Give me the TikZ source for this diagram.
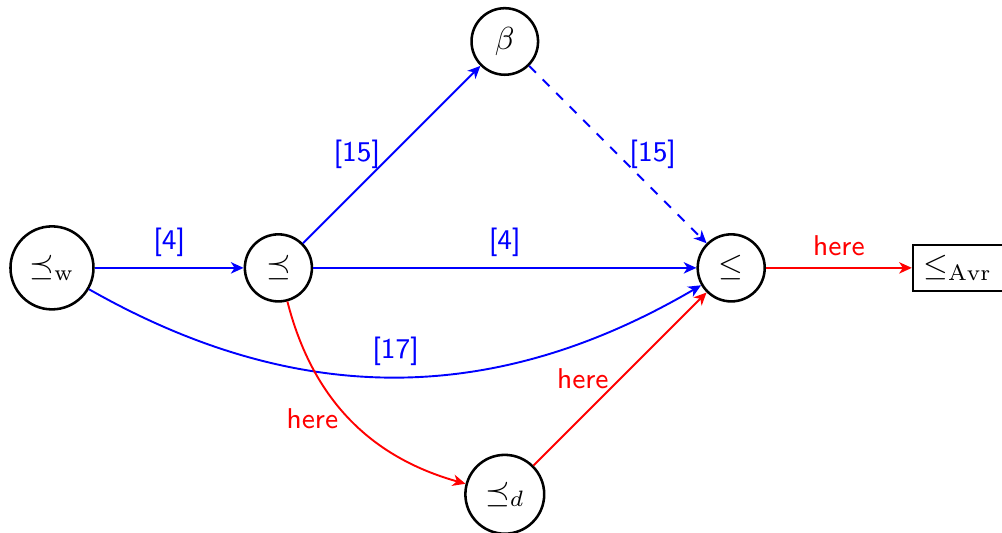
\documentclass[tikz,border=0pt]{standalone}
\usepackage{amsmath,amssymb}
\usepackage{tikz}
\usetikzlibrary{arrows.meta,positioning}
\tikzset{
  st/.style={circle,draw,thick,inner sep=3.6pt},
  res/.style={rectangle,draw,semithick},
  ed/.style={semithick,-{Stealth[length=4pt,width=3.6pt,inset=1.2pt]}},
  lb/.style={font=\sffamily\small}
}
\begin{document}
\begin{tikzpicture}
  \useasboundingbox (-0.574,-2.925) rectangle (10.49,2.958);
  % states
  \node[st] (w) at (0,0) {$\preceq_{\mathrm{w}}$};
  \node[st] (p) at (2.5,0) {$\preceq$};
  \node[st] (b) at (5,2.5) {$\beta$};
  \node[st] (l) at (7.5,0) {$\leq$};
  \node[st] (d) at (5,-2.5) {$\preceq_d$};
  \node[res] (a) at (10,0) {$\leq_{\mathrm{Avr}}$};
  % blue edges
  \draw[ed,blue] (w) -- node[lb,above] {[4]} (p);
  \draw[ed,blue] (p) -- node[lb,left] {[15]} (b);
  \draw[ed,blue,dashed] (b) -- node[lb,right] {[15]} (l);
  \draw[ed,blue] (p) -- node[lb,above] {[4]} (l);
  \draw[ed,blue] (w) to[bend right=30] node[lb,above] {[17]} (l);
  % red edges
  \draw[ed,red] (p) to[bend right=30] node[lb,left] {here} (d);
  \draw[ed,red] (d) -- node[lb,left] {here} (l);
  \draw[ed,red] (l) -- node[lb,above] {here} (a);
\end{tikzpicture}
\end{document}
